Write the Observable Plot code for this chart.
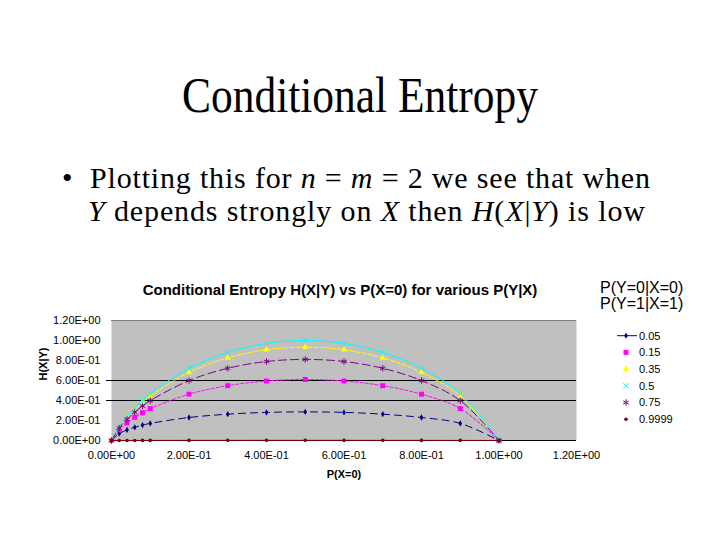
<!DOCTYPE html>
<html>
<head>
<meta charset="utf-8">
<script src="https://cdn.jsdelivr.net/npm/d3@7"></script>
<script src="https://cdn.jsdelivr.net/npm/@observablehq/plot@0.6"></script>
<style>
  html, body { margin: 0; padding: 0; background: #fff; }
  #slide { position: relative; width: 720px; height: 540px; background: #fff; overflow: hidden; }
  #heading { position: absolute; left: 0; top: 0; font-family: "Liberation Serif", "Times New Roman", serif; }
  #chart { position: absolute; left: 0; top: 270px; }
  #legend { position: absolute; left: 590px; top: 270px; font-family: "Liberation Sans", Arial, sans-serif; }
</style>
</head>
<body>
<div id="slide">
  <svg id="heading" width="720" height="240" fill="#000">
    <text x="182" y="112" font-size="50" textLength="356" lengthAdjust="spacingAndGlyphs">Conditional Entropy</text>
    <text x="62" y="188" font-size="30">•</text>
    <text x="90" y="188" font-size="30" textLength="560" lengthAdjust="spacing">Plotting this for <tspan font-style="italic">n</tspan> = <tspan font-style="italic">m</tspan> = 2 we see that when</text>
    <text x="88" y="221" font-size="30" textLength="557" lengthAdjust="spacing"><tspan font-style="italic">Y</tspan> depends strongly on <tspan font-style="italic">X</tspan> then <tspan font-style="italic">H</tspan>(<tspan font-style="italic">X</tspan>|<tspan font-style="italic">Y</tspan>) is low</text>
  </svg>
  <div id="chart"></div>
  <svg id="legend" width="130" height="170"></svg>
</div>
<script>
// P(X=0) sample points
const pX0 = [0, 0.02, 0.04, 0.06, 0.08, 0.1, 0.2, 0.3, 0.4, 0.5, 0.6, 0.7, 0.8, 0.9, 1.0];

// H(X|Y) for each value of P(Y=0|X=0) = P(Y=1|X=1)
const h005   = [0, 0.069, 0.106, 0.132, 0.154, 0.171, 0.230, 0.263, 0.281, 0.286, 0.281, 0.263, 0.230, 0.171, 0];
const h015   = [0, 0.107, 0.176, 0.232, 0.278, 0.319, 0.463, 0.548, 0.595, 0.610, 0.595, 0.548, 0.463, 0.319, 0];
const h035   = [0, 0.136, 0.232, 0.312, 0.383, 0.445, 0.680, 0.826, 0.908, 0.934, 0.908, 0.826, 0.680, 0.445, 0];
const h05    = [0, 0.141, 0.242, 0.327, 0.402, 0.469, 0.722, 0.881, 0.971, 1.000, 0.971, 0.881, 0.722, 0.469, 0];
const h075   = [0, 0.126, 0.212, 0.283, 0.345, 0.399, 0.599, 0.722, 0.790, 0.811, 0.790, 0.722, 0.599, 0.399, 0];
const h09999 = [0, 0.0003, 0.0005, 0.0007, 0.0008, 0.0009, 0.0012, 0.0014, 0.0015, 0.0015, 0.0015, 0.0014, 0.0012, 0.0009, 0];

const seriesLabels = ["0.05", "0.15", "0.35", "0.5", "0.75", "0.9999"];
const seriesValues = [h005, h015, h035, h05, h075, h09999];

// Axis ticks and their Excel-style labels
const xTicks = [0, 0.2, 0.4, 0.6, 0.8, 1.0, 1.2];
const xTickLabels = ["0.00E+00", "2.00E-01", "4.00E-01", "6.00E-01", "8.00E-01", "1.00E+00", "1.20E+00"];
const yTicks = [0, 0.2, 0.4, 0.6, 0.8, 1.0, 1.2];
const yTickLabels = ["0.00E+00", "2.00E-01", "4.00E-01", "6.00E-01", "8.00E-01", "1.00E+00", "1.20E+00"];
const gridTicks = [0.4, 0.6];

// Series styling (Excel default palette)
const seriesColors = ["#000080", "#FF00FF", "#FFFF00", "#00FFFF", "#800080", "#800000"];
const seriesSymbols = ["diamond", "square", "triangle", "times", "asterisk", "circle"];
const seriesStrokeSymbol = [false, false, false, true, true, false];
const seriesRadius = [1.9, 2.8, 2.4, 2.5, 3, 1.8];
const seriesDashes = ["7,5", "3,2", "4,2", null, "8,4", null];

const rows = seriesValues.map((vals, s) => vals.map((v, i) => ({series: seriesLabels[s], x: pX0[i], y: v})));

const xLabelOf = new Map(xTicks.map((t, i) => [t, xTickLabels[i]]));
const yLabelOf = new Map(yTicks.map((t, i) => [t, yTickLabels[i]]));

const seriesMarks = rows.flatMap((data, s) => [
  Plot.line(data, {
    x: "x", y: "y", curve: "catmull-rom",
    stroke: seriesColors[s], strokeWidth: 1,
    strokeDasharray: seriesDashes[s] ?? undefined
  }),
  Plot.dot(data, seriesStrokeSymbol[s]
    ? {x: "x", y: "y", symbol: seriesSymbols[s], r: seriesRadius[s], stroke: seriesColors[s], fill: "none", strokeWidth: 1}
    : {x: "x", y: "y", symbol: seriesSymbols[s], r: seriesRadius[s], fill: seriesColors[s], stroke: "none"})
]);

const chart = Plot.plot({
  width: 600,
  height: 230,
  marginLeft: 111,
  marginRight: 24,
  marginTop: 50,
  marginBottom: 60,
  style: {fontFamily: "'Liberation Sans', Arial, sans-serif", fontSize: "11px", background: "transparent", color: "#000", overflow: "visible"},
  x: {domain: [0, 1.2]},
  y: {domain: [0, 1.2]},
  marks: [
    Plot.frame({fill: "#c0c0c0", stroke: "none"}),
    Plot.ruleY(gridTicks, {stroke: "#000", strokeWidth: 1}),
    Plot.ruleY([1.2], {stroke: "#808080", strokeWidth: 1}),
    Plot.axisY({ticks: gridTicks, tickSize: 5, tickFormat: () => "", label: null, stroke: "#000"}),
    Plot.axisY({ticks: yTicks, tickSize: 0, tickPadding: 11, tickFormat: d => yLabelOf.get(d), label: null, fontSize: 11}),
    Plot.axisX({ticks: xTicks, tickSize: 0, tickPadding: 11, tickFormat: d => xLabelOf.get(d), label: null, fontSize: 11}),
    Plot.ruleY([0], {stroke: "#000", strokeWidth: 1}),
    ...seriesMarks,
    Plot.text(["Conditional Entropy H(X|Y) vs P(X=0) for various P(Y|X)"], {frameAnchor: "top", dy: -36, dx: -4, fontSize: 15, fontWeight: "bold"}),
    Plot.text(["H(X|Y)"], {frameAnchor: "left", dx: -68, rotate: -90, fontSize: 11, fontWeight: "bold"}),
    Plot.text(["P(X=0)"], {frameAnchor: "bottom", dy: 37, fontSize: 11, fontWeight: "bold"})
  ]
});
document.getElementById("chart").appendChild(chart);

// Legend: header plus one row per series
const legend = d3.select("#legend");
legend.append("text").attr("x", 10).attr("y", 22.7).attr("font-size", 16).text("P(Y=0|X=0)");
legend.append("text").attr("x", 10).attr("y", 38.7).attr("font-size", 16).text("P(Y=1|X=1)");

const d3Symbols = {
  diamond: d3.symbolDiamond,
  square: d3.symbolSquare,
  triangle: d3.symbolTriangle,
  times: d3.symbolTimes ?? d3.symbolCross,
  asterisk: d3.symbolAsterisk ?? d3.symbolCross,
  circle: d3.symbolCircle
};

seriesLabels.forEach((label, s) => {
  const cy = 65.7 + s * 16.7;
  const g = legend.append("g").attr("transform", `translate(36,${cy})`);
  if (s === 0) {
    g.append("line").attr("x1", -9).attr("x2", 11).attr("stroke", seriesColors[s]).attr("stroke-width", 1);
  }
  const path = g.append("path")
    .attr("d", d3.symbol(d3Symbols[seriesSymbols[s]], Math.PI * seriesRadius[s] ** 2)());
  if (seriesStrokeSymbol[s]) path.attr("fill", "none").attr("stroke", seriesColors[s]).attr("stroke-width", 1);
  else path.attr("fill", seriesColors[s]);
  legend.append("text").attr("x", 49).attr("y", cy).attr("dy", "0.35em").attr("font-size", 11).attr("fill", "#000").text(label);
});
</script>
</body>
</html>
